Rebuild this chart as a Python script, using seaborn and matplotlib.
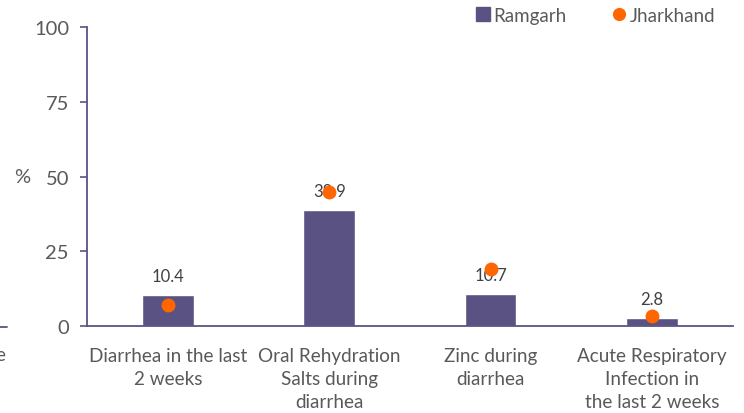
import matplotlib
matplotlib.use("Agg")
import matplotlib.pyplot as plt
import seaborn as sns
import pandas as pd
from matplotlib.lines import Line2D

categories = ["Diarrhea in the last\n2 weeks", "Oral Rehydration\nSalts during\ndiarrhea",
              "Zinc during\ndiarrhea", "Acute Respiratory\nInfection in\nthe last 2 weeks"]
ramgarh = [10.4, 38.9, 10.7, 2.8]
jharkhand = [7.0, 44.8, 19.1, 3.3]
yticks = [0, 25, 50, 75, 100]

PURPLE = "#5A5283"
ORANGE = "#FF6600"
TXT = "#595959"

sns.set_theme(style="white")
plt.rcParams['font.family'] = ['Lato', 'DejaVu Sans']

df = pd.DataFrame({"cat": categories, "Ramgarh": ramgarh, "Jharkhand": jharkhand})

fig = plt.figure(figsize=(7.44, 4.14), dpi=100)
ax = fig.add_axes([0.117, 0.21, 0.868, 0.722])

sns.barplot(data=df, x="cat", y="Ramgarh", color=PURPLE, width=0.32, saturation=1, ax=ax)
sns.stripplot(data=df, x="cat", y="Jharkhand", color=ORANGE, jitter=False, size=10,
              linewidth=0, ax=ax, zorder=5)

for i, v in enumerate(ramgarh):
    ax.annotate(f"{v}", (i, v), xytext=(0, 8), textcoords="offset points",
                ha="center", va="bottom", fontsize=12, color="#404040")

ax.set_xlim(-0.5, 3.5)
ax.set_ylim(0, 100)
ax.set_yticks(yticks)
ax.set_yticklabels([str(t) for t in yticks], fontsize=14.5, color=TXT)
ax.tick_params(axis="x", length=0, labelsize=13.6, labelcolor=TXT, pad=15)
for lbl in ax.get_xticklabels():
    lbl.set_linespacing(1.45)
ax.tick_params(axis="y", left=True, length=5, width=1.2, color=PURPLE, pad=8)
ax.set_xlabel("")
ax.set_ylabel("%", rotation=0, fontsize=14.5, color=TXT, va="center", ha="center")
ax.yaxis.set_label_coords(-0.1, 0.5)

for s in ["top", "right"]:
    ax.spines[s].set_visible(False)
for s in ["left", "bottom"]:
    ax.spines[s].set_color(PURPLE)
    ax.spines[s].set_linewidth(1.3)

handles = [Line2D([], [], marker="s", color=PURPLE, linestyle="", markersize=9.5),
           Line2D([], [], marker="o", color=ORANGE, linestyle="", markersize=8.5)]
fig.legend(handles, ["Ramgarh", "Jharkhand"], loc="upper right", bbox_to_anchor=(0.984, 1.022),
           ncol=2, frameon=False, fontsize=13.5, labelcolor=TXT, handletextpad=0.05,
           columnspacing=2.3, handlelength=1.0)

# clipped neighbour fragments at left edge
fig.add_artist(Line2D([0.0, 0.009], [0.208, 0.208], color=PURPLE, linewidth=1.3))
fig.text(-0.006, 0.142, "e", fontsize=13.6, color=TXT, ha="left", va="center")

fig.savefig("out.png", dpi=100)
